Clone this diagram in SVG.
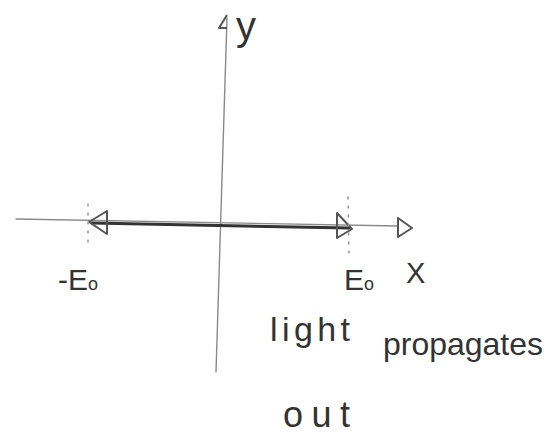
<svg xmlns="http://www.w3.org/2000/svg" width="560" height="435" viewBox="0 0 560 435">
<style>
.axis{stroke:#8a8a8a;stroke-width:1.4;fill:none;stroke-linecap:round}
.head{stroke:#555;stroke-width:2;fill:none;stroke-linejoin:round}
.vec{stroke:#333;stroke-width:3;fill:none;stroke-linecap:round}
.dot{stroke:#999;stroke-width:1.5;fill:none;stroke-dasharray:2 7;stroke-linecap:round}
.lbl{font-family:"Liberation Sans","DejaVu Sans",sans-serif;fill:#333}
</style>
<rect width="560" height="435" fill="#fff"/>
<g id="connectors">
<g id="y-axis">
<path class="axis" d="M227,18 L216,372"/>
<path class="head" d="M227,15 L219,28 L227,28"/>
</g>
<g id="x-axis">
<path class="axis" d="M16,219 L398,226"/>
<path class="head" d="M398,218 L412,228 L398,237 Z"/>
</g>
<g id="vector">
<path class="vec" d="M92,223 L349,228"/>
<path class="head" d="M107,211 L89,222 L107,234 Z"/>
<path class="head" d="M337,213 L352,229 L337,238 Z"/>
</g>
<path class="dot" d="M88,204 L88,246"/>
<path class="dot" d="M348,197 L349,255"/>
</g>
<g id="labels">
<text class="lbl" x="236" y="40" font-size="40">y</text>
<text class="lbl" x="58" y="290" font-size="30">-E<tspan font-size="18">o</tspan></text>
<text class="lbl" x="344" y="290" font-size="30">E<tspan font-size="18">o</tspan></text>
<text class="lbl" x="406" y="283" font-size="29">X</text>
<text class="lbl" x="270" y="341" font-size="34" textLength="80" lengthAdjust="spacing">light</text>
<text class="lbl" x="383" y="355" font-size="32" textLength="160" lengthAdjust="spacing">propagates</text>
<text class="lbl" x="283" y="427" font-size="36" textLength="67" lengthAdjust="spacing">out</text>
</g>
</svg>
